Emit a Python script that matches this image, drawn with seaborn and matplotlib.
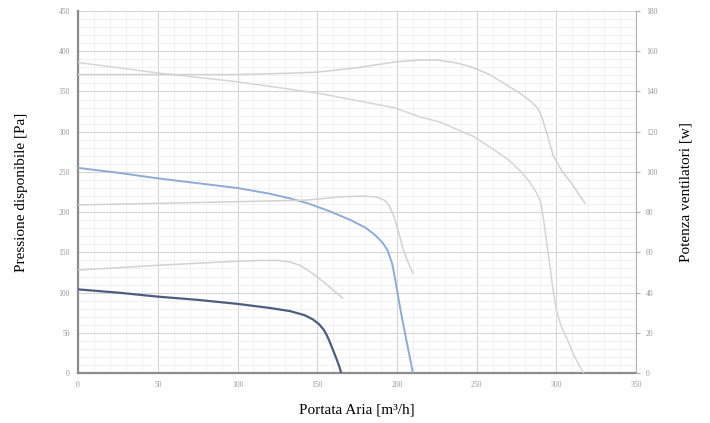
import numpy as np
import pandas as pd
import matplotlib
matplotlib.use("Agg")
import matplotlib.pyplot as plt
from matplotlib.ticker import MultipleLocator
import seaborn as sns

# Pressure curves [Pa] vs air flow [m3/h]
p_low_x = [0, 25, 50, 75, 100, 120, 133, 142, 147, 151, 154, 156, 158, 160, 162, 164, 165]
p_low_y = [104, 100, 95, 91, 86, 81, 77, 72, 67, 61, 54, 47, 38, 28, 18, 7, 0]

p_mid_x = [0, 25, 50, 75, 100, 120, 133, 144, 158, 171, 180, 186, 191, 194, 197, 199,
           201, 203, 205, 207, 209, 210]
p_mid_y = [255, 249, 242, 236, 230, 223, 217, 211, 201, 190, 181, 172, 162, 153, 136, 115,
           92, 70, 50, 30, 10, 0]

p_high_x = [0, 50, 100, 150, 198, 215, 227, 248, 262, 270, 277, 283, 287, 290, 292, 294,
            296, 298, 300, 303, 307, 311, 315, 317]
p_high_y = [386, 373, 362, 348, 330, 318, 312, 294, 276, 265, 252, 238, 226, 213, 190, 160,
            132, 102, 78, 58, 41, 22, 7, 0]

# Fan power curves [W] vs air flow [m3/h]
w_low_x = [0, 50, 100, 115, 125, 133, 139, 144, 149, 154, 160, 166]
w_low_y = [51.2, 53.6, 55.6, 56.0, 56.0, 55.2, 53.6, 51.2, 48.4, 45.2, 41.2, 37.2]

w_mid_x = [0, 50, 100, 144, 164, 178, 187, 192, 195, 198, 201, 204, 207, 210]
w_mid_y = [83.6, 84.4, 85.2, 86.0, 87.6, 88.0, 87.6, 86.0, 83.5, 78.0, 70.0, 61.2, 55.0, 49.6]

w_high_x = [0, 50, 100, 130, 150, 175, 200, 215, 225, 236, 246, 258, 268, 277, 284, 288,
            291, 294, 298, 303, 309, 314, 318]
w_high_y = [148.4, 148.4, 148.4, 149.0, 149.6, 151.8, 154.8, 155.6, 155.6, 154.4, 152.4,
            148.4, 143.6, 139.2, 135.0, 132.0, 127.0, 119.2, 108.0, 101.0, 94.8, 89.0, 84.4]

sns.set_style("white")
plt.rcParams['font.family'] = ['Liberation Serif', 'DejaVu Serif']

fig = plt.figure(figsize=(7.1, 4.23), dpi=100)
ax = fig.add_axes([0.110, 0.118, 0.786, 0.856])
ax2 = ax.twinx()

grey = "#d2d2d2"
sns.lineplot(x=w_low_x, y=w_low_y, ax=ax2, color=grey, lw=1.1)
sns.lineplot(x=w_mid_x, y=w_mid_y, ax=ax2, color=grey, lw=1.1)
sns.lineplot(x=w_high_x, y=w_high_y, ax=ax2, color=grey, lw=1.1)

sns.lineplot(x=p_low_x, y=p_low_y, ax=ax, color="#4d5d7e", lw=1.6, zorder=5)
sns.lineplot(x=p_mid_x, y=p_mid_y, ax=ax, color="#8eacd6", lw=1.4, zorder=5)
sns.lineplot(x=p_high_x, y=p_high_y, ax=ax, color="#d6d6d6", lw=1.1, zorder=5)

ax.set_xlim(0, 350)
ax.set_ylim(0, 450)
ax2.set_ylim(0, 180)

ax.xaxis.set_major_locator(MultipleLocator(50))
ax.yaxis.set_major_locator(MultipleLocator(50))
ax.xaxis.set_minor_locator(MultipleLocator(10))
ax.yaxis.set_minor_locator(MultipleLocator(10))
ax2.yaxis.set_major_locator(MultipleLocator(20))

ax.grid(which='major', color='#d6d6d6', lw=0.8)
ax.grid(which='minor', color='#efefef', lw=0.6)
ax.set_axisbelow(True)

for a in (ax, ax2):
    a.spines['top'].set_visible(False)
ax.spines['left'].set_color('#8c8c8c')
ax.spines['left'].set_linewidth(1.6)
ax.spines['bottom'].set_color('#8c8c8c')
ax.spines['bottom'].set_linewidth(1.6)
ax.spines['right'].set_visible(False)
ax2.spines['left'].set_visible(False)
ax2.spines['bottom'].set_visible(False)
ax2.spines['right'].set_color('#b0b0b0')
ax2.spines['right'].set_linewidth(0.8)

ax.tick_params(axis='both', which='both', length=0, labelsize=5.5, labelcolor='#999999', pad=6)
ax2.tick_params(axis='y', which='major', length=3, color='#b0b0b0', labelsize=5.5,
                labelcolor='#999999', pad=4)

ax.set_xlabel("Portata Aria [m³/h]", fontsize=11, color='black', labelpad=10)
ax.set_ylabel("Pressione disponibile [Pa]", fontsize=11, color='black', labelpad=22)
ax2.set_ylabel("Potenza ventilatori [w]", fontsize=11, color='black', labelpad=16)

fig.savefig("out.png", dpi=100)
